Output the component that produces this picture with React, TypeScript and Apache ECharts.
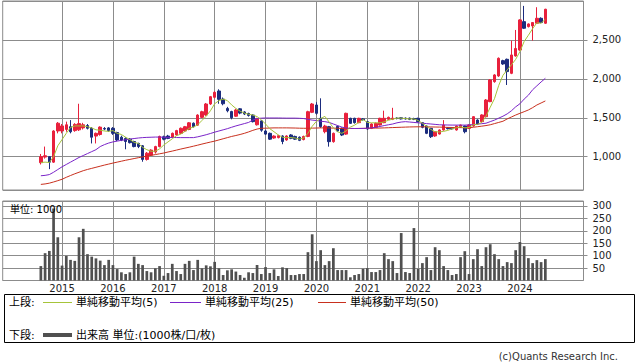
import React, { useEffect, useRef } from "react";
import * as echarts from "echarts";

// ---- axis layout (months) ----
const AXIS_START_YEAR = 2013;
const AXIS_START_MONTH = 11; // Nov 2013
const AXIS_MONTHS = 138; // Nov 2013 .. Apr 2025
const DATA_OFFSET = 9; // data starts Aug 2014
const GRID_YEARS = [2015, 2016, 2017, 2018, 2019, 2020, 2021, 2022, 2023, 2024];

// ---- monthly candles Aug 2014 .. Jul 2024 ----
const opens = [
  923, 995, 1000, 930, 1330,
  1330, 1350, 1385, 1335, 1345, 1370, 1400, 1365, 1265, 1285, 1362, 1370,
  1365, 1310, 1250, 1235, 1225, 1195, 1170, 1140, 965, 1020, 1060, 1130,
  1255, 1265, 1250, 1280, 1300, 1330, 1350, 1430, 1405, 1505, 1536, 1677,
  1763, 1844, 1740, 1620, 1580, 1520, 1615, 1575, 1555, 1535, 1410, 1460,
  1330, 1300, 1240, 1245, 1266, 1215, 1279, 1260, 1250, 1220, 1260, 1570,
  1664, 1493, 1321, 1386, 1193, 1390, 1364, 1290, 1493, 1493, 1437, 1485,
  1450, 1364, 1377, 1407, 1437, 1480, 1480, 1495, 1500, 1495, 1495, 1490,
  1493, 1437, 1394, 1364, 1266, 1291, 1343, 1370, 1370, 1343, 1377, 1394,
  1364, 1394, 1471, 1450, 1514, 1707, 1964, 2037, 2234, 2251, 2071, 2294,
  2370, 2735, 2671, 2680, 2714, 2778, 2714,
];
const closes = [
  1000, 1012, 930, 1330, 1430,
  1395, 1410, 1320, 1415, 1425, 1410, 1365, 1250, 1300, 1380, 1355, 1335,
  1300, 1215, 1215, 1195, 1180, 1130, 1130, 965, 1045, 1085, 1130, 1260,
  1225, 1235, 1300, 1335, 1365, 1385, 1435, 1385, 1535, 1578, 1677, 1771,
  1827, 1737, 1680, 1590, 1500, 1600, 1560, 1548, 1530, 1450, 1490, 1340,
  1290, 1225, 1265, 1270, 1195, 1266, 1236, 1225, 1210, 1260, 1578, 1677,
  1557, 1386, 1394, 1193, 1300, 1330, 1278, 1557, 1428, 1437, 1493, 1475,
  1356, 1420, 1428, 1493, 1493, 1505, 1495, 1490, 1485, 1485, 1480, 1480,
  1450, 1377, 1300, 1257, 1321, 1343, 1407, 1360, 1358, 1394, 1407, 1321,
  1407, 1514, 1420, 1536, 1728, 1986, 2050, 2264, 2191, 2093, 2307, 2390,
  2757, 2650, 2705, 2723, 2778, 2723, 2894,
];
const lows = [
  900, 975, 840, 920, 1300,
  1300, 1320, 1300, 1320, 1330, 1350, 1350, 1170, 1170, 1270, 1340, 1320,
  1280, 1200, 1200, 1095, 1170, 1120, 1110, 935, 950, 1010, 1040, 1120,
  1210, 1225, 1240, 1270, 1290, 1320, 1340, 1375, 1395, 1495, 1525, 1665,
  1750, 1680, 1660, 1570, 1480, 1510, 1545, 1535, 1515, 1440, 1400, 1320,
  1280, 1215, 1230, 1235, 1160, 1205, 1225, 1215, 1200, 1210, 1250, 1560,
  1540, 1370, 1300, 1129, 1180, 1320, 1265, 1280, 1420, 1425, 1430, 1465,
  1345, 1355, 1370, 1400, 1430, 1470, 1470, 1480, 1478, 1478, 1470, 1470,
  1440, 1365, 1290, 1240, 1255, 1285, 1335, 1350, 1348, 1335, 1370, 1300,
  1355, 1385, 1410, 1440, 1505, 1700, 1950, 2025, 2180, 1921, 2060, 2285,
  2360, 2640, 2660, 2491, 2705, 2715, 2705,
];
const highs = [
  1035, 1130, 1005, 1340, 1445,
  1420, 1450, 1470, 1430, 1680, 1435, 1420, 1380, 1310, 1390, 1380, 1380,
  1380, 1320, 1270, 1250, 1240, 1205, 1180, 1150, 1060, 1095, 1140, 1270,
  1270, 1280, 1310, 1345, 1375, 1395, 1445, 1440, 1545, 1590, 1690, 1780,
  1840, 1866, 1760, 1640, 1590, 1615, 1625, 1585, 1565, 1545, 1500, 1470,
  1345, 1310, 1275, 1280, 1275, 1275, 1290, 1270, 1260, 1270, 1590, 1690,
  1700, 1750, 1410, 1395, 1310, 1400, 1375, 1565, 1500, 1500, 1500, 1495,
  1460, 1430, 1440, 1500, 1591, 1515, 1628, 1505, 1508, 1503, 1502, 1500,
  1500, 1445, 1400, 1370, 1330, 1350, 1470, 1380, 1378, 1400, 1412, 1400,
  1415, 1520, 1480, 1545, 1740, 1995, 2060, 2275, 2245, 2260, 2491, 2628,
  2765, 2937, 2712, 2730, 2920, 2790, 2900,
];

// ---- moving averages ----
const ma5 = [
  925, 930, 925, 1000, 1140,
  1220, 1300, 1375, 1395, 1395, 1395, 1385, 1370, 1345, 1340, 1330, 1325,
  1335, 1300, 1285, 1250, 1220, 1185, 1170, 1120, 1090, 1070, 1070, 1100,
  1150, 1190, 1230, 1270, 1290, 1325, 1365, 1380, 1410, 1465, 1520, 1590,
  1680, 1720, 1740, 1720, 1665, 1620, 1585, 1560, 1545, 1535, 1515, 1475,
  1420, 1360, 1320, 1280, 1250, 1245, 1245, 1240, 1225, 1240, 1300, 1390,
  1455, 1490, 1518, 1445, 1370, 1320, 1300, 1330, 1380, 1405, 1440, 1478,
  1440, 1435, 1435, 1435, 1448, 1468, 1483, 1495, 1495, 1490, 1485, 1485,
  1465, 1430, 1390, 1350, 1320, 1318, 1325, 1338, 1358, 1372, 1385, 1370,
  1375, 1410, 1415, 1440, 1520, 1635, 1745, 1915, 2045, 2115, 2180, 2250,
  2350, 2480, 2560, 2645, 2720, 2715, 2765,
];
const ma25 = [
  755, 760, 770, 800, 835,
  870, 900, 930, 960, 990, 1015, 1040, 1065, 1090, 1130, 1155, 1175,
  1190, 1200, 1210, 1218, 1226, 1233, 1240, 1245, 1248, 1250, 1252, 1252,
  1250, 1248, 1247, 1246, 1245, 1245, 1245, 1245, 1255, 1268, 1282, 1298,
  1315, 1330, 1345, 1360, 1378, 1395, 1410, 1425, 1440, 1470, 1490, 1495,
  1497, 1497, 1497, 1497, 1496, 1495, 1495, 1495, 1493, 1490, 1480, 1470,
  1465, 1455, 1450, 1440, 1420, 1400, 1380, 1368, 1364, 1362, 1362, 1363,
  1365, 1370, 1378, 1388, 1400, 1410, 1420, 1435, 1445, 1450, 1445, 1440,
  1435, 1430, 1425, 1420, 1415, 1410, 1408, 1407, 1406, 1406, 1406, 1406,
  1408, 1412, 1418, 1424, 1430, 1450, 1470, 1495, 1520, 1550, 1590, 1640,
  1680, 1740, 1790, 1860, 1910, 1960, 2007,
];
const ma50 = [
  644, 650, 660, 675, 692,
  710, 735, 758, 780, 800, 820, 836, 850, 864, 878, 892, 905,
  918, 930, 942, 954, 965, 976, 987, 997, 1007, 1017, 1027, 1037,
  1047, 1060, 1072, 1085, 1098, 1110, 1122, 1135, 1148, 1162, 1175, 1188,
  1200, 1215, 1230, 1245, 1260, 1272, 1285, 1300, 1318, 1338, 1355, 1365,
  1366, 1368, 1370, 1370, 1370, 1370, 1369, 1368, 1366, 1365, 1365, 1367,
  1368, 1370, 1370, 1369, 1367, 1365, 1363, 1362, 1362, 1362, 1363, 1364,
  1365, 1366, 1367, 1368, 1370, 1372, 1374, 1376, 1378, 1380, 1382, 1383,
  1384, 1384, 1383, 1382, 1381, 1380, 1378, 1376, 1375, 1374, 1373, 1372,
  1372, 1378, 1385, 1392, 1400, 1410, 1425, 1440, 1455, 1485, 1510, 1535,
  1557, 1578, 1600, 1630, 1664, 1690, 1716,
];

// ---- volume (1000 shares) ----
const volumes = [
  58, 110, 119, 290, 174,
  60, 99, 83, 79, 174, 208, 106, 96, 89, 80, 62, 83,
  62, 46, 33, 26, 33, 96, 67, 62, 38, 33, 49, 58,
  19, 30, 67, 38, 26, 67, 79, 42, 83, 49, 61, 57,
  75, 49, 22, 41, 45, 36, 22, 11, 33, 30, 62, 26,
  54, 30, 45, 18, 53, 50, 22, 22, 26, 26, 114, 186,
  78, 122, 62, 78, 130, 42, 42, 42, 13, 22, 26, 47,
  50, 34, 34, 42, 110, 86, 78, 30, 191, 34, 30, 211,
  47, 70, 94, 42, 134, 122, 58, 42, 22, 26, 94, 118,
  26, 86, 126, 58, 134, 146, 106, 86, 58, 74, 70, 122,
  155, 138, 90, 70, 82, 74, 86,
];

const categories: string[] = [];
for (let i = 0; i < AXIS_MONTHS; i++) {
  const t = AXIS_START_MONTH - 1 + i;
  const y = AXIS_START_YEAR + Math.floor(t / 12);
  const m = (t % 12) + 1;
  categories.push(`${y}-${String(m).padStart(2, "0")}`);
}
const isYearLine = (idx: number) => {
  const c = categories[idx];
  return !!c && c.endsWith("-01") && GRID_YEARS.includes(Number(c.slice(0, 4)));
};
const pad = (arr: number[]) =>
  categories.map((_, i) => {
    const k = i - DATA_OFFSET;
    return k >= 0 && k < arr.length ? arr[k] : "-";
  });
const candleData = categories.map((_, i) => {
  const k = i - DATA_OFFSET;
  return k >= 0 && k < opens.length
    ? [opens[k], closes[k], lows[k], highs[k]]
    : ["-", "-", "-", "-"];
});

const GRID_COLOR = "#8c8c8c";
const UP = "#e8203c";
const DOWN = "#1b2c7e";
const C_MA5 = "#a6c43a";
const C_MA25 = "#7a24c8";
const C_MA50 = "#c8301e";
const C_VOL = "#505050";
const AXIS_FONT = "'DejaVu Sans', 'Noto Sans CJK JP', sans-serif";
const LEG_FONT = "11px 'DejaVu Sans', 'Noto Sans CJK JP', sans-serif";

export default function App() {
  const ref = useRef<HTMLDivElement>(null);
  useEffect(() => {
    if (!ref.current) return;
    const chart = echarts.init(ref.current, undefined, { renderer: "svg" });
    const grid = { left: 2.7, width: 580.8 };
    const xBase = {
      type: "category",
      data: categories,
      boundaryGap: false,
      axisLine: { show: false },
      axisTick: { show: false },
      splitLine: {
        show: true,
        interval: (i: number) => isYearLine(i),
        lineStyle: { color: GRID_COLOR, width: 1 },
      },
    };
    const yBase = {
      type: "value",
      position: "right",
      axisLine: { show: false },
      axisTick: { show: true, length: 4, lineStyle: { color: GRID_COLOR } },
      splitLine: { show: true, lineStyle: { color: GRID_COLOR, width: 1 } },
    };
    chart.setOption({
      animation: false,
      backgroundColor: "#ffffff",
      grid: [
        { ...grid, top: 1, height: 189, show: true, borderColor: GRID_COLOR, borderWidth: 1 },
        { ...grid, top: 201, height: 79.5, show: true, borderColor: GRID_COLOR, borderWidth: 1 },
      ],
      xAxis: [
        { ...xBase, gridIndex: 0, axisLabel: { show: false } },
        {
          ...xBase,
          gridIndex: 1,
          axisLabel: {
            show: true,
            interval: (i: number) => isYearLine(i),
            formatter: (v: string) => v.slice(0, 4),
            color: "#222",
            fontFamily: AXIS_FONT,
            fontSize: 10,
            margin: 3,
          },
        },
      ],
      yAxis: [
        {
          ...yBase,
          gridIndex: 0,
          min: 572,
          max: 3000,
          splitNumber: 5,
          axisLabel: {
            formatter: (v: number) => v.toLocaleString("en-US"),
            showMinLabel: false,
            showMaxLabel: false,
            color: "#222",
            fontFamily: AXIS_FONT,
            fontSize: 10,
            margin: 9,
          },
        },
        {
          ...yBase,
          gridIndex: 1,
          min: 0,
          max: 320,
          interval: 50,
          axisLabel: {
            showMinLabel: false,
            showMaxLabel: false,
            color: "#222",
            fontFamily: AXIS_FONT,
            fontSize: 10,
            margin: 9,
          },
        },
      ],
      series: [
        {
          type: "candlestick",
          xAxisIndex: 0,
          yAxisIndex: 0,
          data: candleData,
          barWidth: 3,
          itemStyle: {
            color: UP,
            color0: DOWN,
            borderColor: UP,
            borderColor0: DOWN,
            borderWidth: 1,
          },
        },
        {
          type: "line",
          xAxisIndex: 0,
          yAxisIndex: 0,
          data: pad(ma50),
          symbol: "none",
          lineStyle: { color: C_MA50, width: 1 },
        },
        {
          type: "line",
          xAxisIndex: 0,
          yAxisIndex: 0,
          data: pad(ma25),
          symbol: "none",
          lineStyle: { color: C_MA25, width: 1 },
        },
        {
          type: "line",
          xAxisIndex: 0,
          yAxisIndex: 0,
          data: pad(ma5),
          symbol: "none",
          lineStyle: { color: C_MA5, width: 1 },
        },
        {
          type: "bar",
          xAxisIndex: 1,
          yAxisIndex: 1,
          data: pad(volumes),
          barWidth: 2.7,
          itemStyle: { color: C_VOL },
        },
      ],
      graphic: [
        {
          type: "text",
          x: 10,
          y: 209,
          z: 100,
          style: { text: "単位: 1000", font: "10px " + AXIS_FONT, fill: "#000", align: "left", verticalAlign: "middle" },
        },
        {
          type: "rect",
          shape: { x: 4.5, y: 294.5, width: 630, height: 48 },
          style: { fill: "#fff", stroke: "#000", lineWidth: 1 },
        },
        { type: "text", x: 9, y: 302.5, style: { text: "上段:", font: LEG_FONT, fill: "#000", verticalAlign: "middle" } },
        { type: "line", shape: { x1: 43, y1: 302.5, x2: 72, y2: 302.5 }, style: { stroke: C_MA5, lineWidth: 1 } },
        { type: "text", x: 76, y: 302.5, style: { text: "単純移動平均(5)", font: LEG_FONT, fill: "#000", verticalAlign: "middle" } },
        { type: "line", shape: { x1: 170, y1: 302.5, x2: 201, y2: 302.5 }, style: { stroke: C_MA25, lineWidth: 1 } },
        { type: "text", x: 205, y: 302.5, style: { text: "単純移動平均(25)", font: LEG_FONT, fill: "#000", verticalAlign: "middle" } },
        { type: "line", shape: { x1: 318, y1: 302.5, x2: 346, y2: 302.5 }, style: { stroke: C_MA50, lineWidth: 1 } },
        { type: "text", x: 350, y: 302.5, style: { text: "単純移動平均(50)", font: LEG_FONT, fill: "#000", verticalAlign: "middle" } },
        { type: "text", x: 9, y: 335, style: { text: "下段:", font: LEG_FONT, fill: "#000", verticalAlign: "middle" } },
        { type: "line", shape: { x1: 43, y1: 335, x2: 72, y2: 335 }, style: { stroke: C_VOL, lineWidth: 4 } },
        { type: "text", x: 76, y: 335, style: { text: "出来高 単位:(1000株/口/枚)", font: LEG_FONT, fill: "#000", verticalAlign: "middle" } },
        {
          type: "text",
          x: 618,
          y: 356,
          style: { text: "(c)Quants Research Inc.", font: "10px " + AXIS_FONT, fill: "#333", align: "right", verticalAlign: "middle" },
        },
      ],
    });
    return () => chart.dispose();
  }, []);
  return (
    <div
      ref={ref}
      style={{ position: "fixed", left: 0, top: 0, width: 638, height: 362, background: "#fff" }}
    />
  );
}
